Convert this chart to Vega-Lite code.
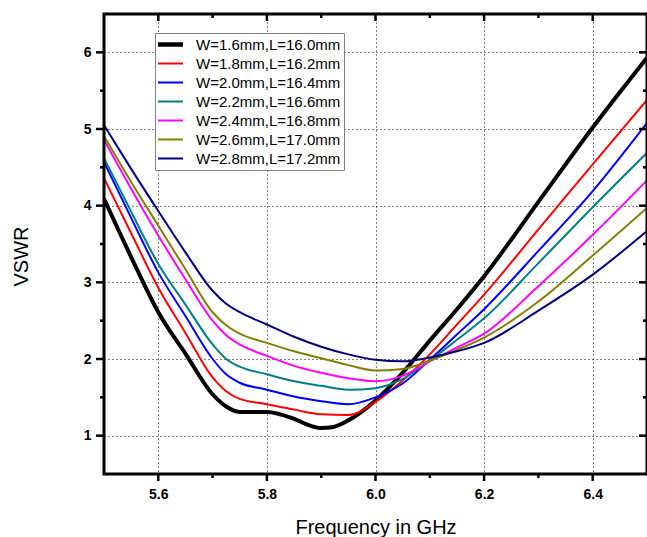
{
  "$schema": "https://vega.github.io/schema/vega-lite/v6.json",
  "width": 543,
  "height": 460,
  "autosize": "none",
  "padding": {"left": 104, "top": 14, "right": 0, "bottom": 63},
  "background": "white",
  "config": {
    "view": {"stroke": null},
    "font": "Liberation Sans",
    "axis": {
      "labelFont": "Liberation Sans",
      "labelFontWeight": "bold",
      "labelFontSize": 14,
      "labelColor": "black",
      "titleFont": "Liberation Sans",
      "titleFontSize": 20,
      "titleFontWeight": "normal",
      "titleColor": "black",
      "gridColor": "black",
      "gridDash": [1, 3],
      "gridWidth": 1,
      "labelOverlap": false,
      "labelFlush": false
    },
    "tick": {"color": "black", "opacity": 1, "thickness": 2.5}
  },
  "datasets": {
    "curves": [
      {"f": 5.5, "v": 4.09, "s": "W=1.6mm,L=16.0mm"},
      {"f": 5.55, "v": 3.33, "s": "W=1.6mm,L=16.0mm"},
      {"f": 5.6, "v": 2.61, "s": "W=1.6mm,L=16.0mm"},
      {"f": 5.65, "v": 2.07, "s": "W=1.6mm,L=16.0mm"},
      {"f": 5.7, "v": 1.54, "s": "W=1.6mm,L=16.0mm"},
      {"f": 5.725, "v": 1.38, "s": "W=1.6mm,L=16.0mm"},
      {"f": 5.75, "v": 1.31, "s": "W=1.6mm,L=16.0mm"},
      {"f": 5.8, "v": 1.31, "s": "W=1.6mm,L=16.0mm"},
      {"f": 5.85, "v": 1.22, "s": "W=1.6mm,L=16.0mm"},
      {"f": 5.88, "v": 1.13, "s": "W=1.6mm,L=16.0mm"},
      {"f": 5.9, "v": 1.1, "s": "W=1.6mm,L=16.0mm"},
      {"f": 5.92, "v": 1.11, "s": "W=1.6mm,L=16.0mm"},
      {"f": 5.95, "v": 1.2, "s": "W=1.6mm,L=16.0mm"},
      {"f": 6.0, "v": 1.46, "s": "W=1.6mm,L=16.0mm"},
      {"f": 6.05, "v": 1.82, "s": "W=1.6mm,L=16.0mm"},
      {"f": 6.1, "v": 2.24, "s": "W=1.6mm,L=16.0mm"},
      {"f": 6.15, "v": 2.65, "s": "W=1.6mm,L=16.0mm"},
      {"f": 6.2, "v": 3.08, "s": "W=1.6mm,L=16.0mm"},
      {"f": 6.3, "v": 4.05, "s": "W=1.6mm,L=16.0mm"},
      {"f": 6.4, "v": 5.02, "s": "W=1.6mm,L=16.0mm"},
      {"f": 6.5, "v": 5.93, "s": "W=1.6mm,L=16.0mm"},

      {"f": 5.5, "v": 4.36, "s": "W=1.8mm,L=16.2mm"},
      {"f": 5.55, "v": 3.64, "s": "W=1.8mm,L=16.2mm"},
      {"f": 5.6, "v": 2.93, "s": "W=1.8mm,L=16.2mm"},
      {"f": 5.65, "v": 2.34, "s": "W=1.8mm,L=16.2mm"},
      {"f": 5.7, "v": 1.76, "s": "W=1.8mm,L=16.2mm"},
      {"f": 5.725, "v": 1.58, "s": "W=1.8mm,L=16.2mm"},
      {"f": 5.75, "v": 1.48, "s": "W=1.8mm,L=16.2mm"},
      {"f": 5.8, "v": 1.41, "s": "W=1.8mm,L=16.2mm"},
      {"f": 5.85, "v": 1.34, "s": "W=1.8mm,L=16.2mm"},
      {"f": 5.9, "v": 1.28, "s": "W=1.8mm,L=16.2mm"},
      {"f": 5.95, "v": 1.27, "s": "W=1.8mm,L=16.2mm"},
      {"f": 6.0, "v": 1.44, "s": "W=1.8mm,L=16.2mm"},
      {"f": 6.05, "v": 1.72, "s": "W=1.8mm,L=16.2mm"},
      {"f": 6.1, "v": 2.06, "s": "W=1.8mm,L=16.2mm"},
      {"f": 6.15, "v": 2.45, "s": "W=1.8mm,L=16.2mm"},
      {"f": 6.2, "v": 2.84, "s": "W=1.8mm,L=16.2mm"},
      {"f": 6.3, "v": 3.69, "s": "W=1.8mm,L=16.2mm"},
      {"f": 6.4, "v": 4.54, "s": "W=1.8mm,L=16.2mm"},
      {"f": 6.5, "v": 5.38, "s": "W=1.8mm,L=16.2mm"},

      {"f": 5.5, "v": 4.57, "s": "W=2.0mm,L=16.4mm"},
      {"f": 5.55, "v": 3.84, "s": "W=2.0mm,L=16.4mm"},
      {"f": 5.6, "v": 3.13, "s": "W=2.0mm,L=16.4mm"},
      {"f": 5.65, "v": 2.56, "s": "W=2.0mm,L=16.4mm"},
      {"f": 5.7, "v": 2.0, "s": "W=2.0mm,L=16.4mm"},
      {"f": 5.725, "v": 1.8, "s": "W=2.0mm,L=16.4mm"},
      {"f": 5.75, "v": 1.69, "s": "W=2.0mm,L=16.4mm"},
      {"f": 5.8, "v": 1.6, "s": "W=2.0mm,L=16.4mm"},
      {"f": 5.85, "v": 1.51, "s": "W=2.0mm,L=16.4mm"},
      {"f": 5.9, "v": 1.45, "s": "W=2.0mm,L=16.4mm"},
      {"f": 5.95, "v": 1.41, "s": "W=2.0mm,L=16.4mm"},
      {"f": 6.0, "v": 1.5, "s": "W=2.0mm,L=16.4mm"},
      {"f": 6.05, "v": 1.68, "s": "W=2.0mm,L=16.4mm"},
      {"f": 6.1, "v": 1.99, "s": "W=2.0mm,L=16.4mm"},
      {"f": 6.15, "v": 2.32, "s": "W=2.0mm,L=16.4mm"},
      {"f": 6.2, "v": 2.65, "s": "W=2.0mm,L=16.4mm"},
      {"f": 6.3, "v": 3.41, "s": "W=2.0mm,L=16.4mm"},
      {"f": 6.4, "v": 4.19, "s": "W=2.0mm,L=16.4mm"},
      {"f": 6.5, "v": 5.08, "s": "W=2.0mm,L=16.4mm"},

      {"f": 5.5, "v": 4.62, "s": "W=2.2mm,L=16.6mm"},
      {"f": 5.55, "v": 3.92, "s": "W=2.2mm,L=16.6mm"},
      {"f": 5.6, "v": 3.24, "s": "W=2.2mm,L=16.6mm"},
      {"f": 5.65, "v": 2.71, "s": "W=2.2mm,L=16.6mm"},
      {"f": 5.7, "v": 2.19, "s": "W=2.2mm,L=16.6mm"},
      {"f": 5.725, "v": 2.0, "s": "W=2.2mm,L=16.6mm"},
      {"f": 5.75, "v": 1.9, "s": "W=2.2mm,L=16.6mm"},
      {"f": 5.8, "v": 1.8, "s": "W=2.2mm,L=16.6mm"},
      {"f": 5.85, "v": 1.71, "s": "W=2.2mm,L=16.6mm"},
      {"f": 5.9, "v": 1.65, "s": "W=2.2mm,L=16.6mm"},
      {"f": 5.95, "v": 1.6, "s": "W=2.2mm,L=16.6mm"},
      {"f": 6.0, "v": 1.62, "s": "W=2.2mm,L=16.6mm"},
      {"f": 6.05, "v": 1.74, "s": "W=2.2mm,L=16.6mm"},
      {"f": 6.1, "v": 1.98, "s": "W=2.2mm,L=16.6mm"},
      {"f": 6.15, "v": 2.25, "s": "W=2.2mm,L=16.6mm"},
      {"f": 6.2, "v": 2.53, "s": "W=2.2mm,L=16.6mm"},
      {"f": 6.3, "v": 3.25, "s": "W=2.2mm,L=16.6mm"},
      {"f": 6.4, "v": 3.98, "s": "W=2.2mm,L=16.6mm"},
      {"f": 6.5, "v": 4.69, "s": "W=2.2mm,L=16.6mm"},

      {"f": 5.5, "v": 4.86, "s": "W=2.4mm,L=16.8mm"},
      {"f": 5.55, "v": 4.22, "s": "W=2.4mm,L=16.8mm"},
      {"f": 5.6, "v": 3.61, "s": "W=2.4mm,L=16.8mm"},
      {"f": 5.65, "v": 3.04, "s": "W=2.4mm,L=16.8mm"},
      {"f": 5.7, "v": 2.5, "s": "W=2.4mm,L=16.8mm"},
      {"f": 5.725, "v": 2.31, "s": "W=2.4mm,L=16.8mm"},
      {"f": 5.75, "v": 2.19, "s": "W=2.4mm,L=16.8mm"},
      {"f": 5.8, "v": 2.04, "s": "W=2.4mm,L=16.8mm"},
      {"f": 5.85, "v": 1.91, "s": "W=2.4mm,L=16.8mm"},
      {"f": 5.9, "v": 1.82, "s": "W=2.4mm,L=16.8mm"},
      {"f": 5.95, "v": 1.75, "s": "W=2.4mm,L=16.8mm"},
      {"f": 6.0, "v": 1.71, "s": "W=2.4mm,L=16.8mm"},
      {"f": 6.05, "v": 1.78, "s": "W=2.4mm,L=16.8mm"},
      {"f": 6.1, "v": 1.97, "s": "W=2.4mm,L=16.8mm"},
      {"f": 6.15, "v": 2.15, "s": "W=2.4mm,L=16.8mm"},
      {"f": 6.2, "v": 2.33, "s": "W=2.4mm,L=16.8mm"},
      {"f": 6.3, "v": 2.95, "s": "W=2.4mm,L=16.8mm"},
      {"f": 6.4, "v": 3.62, "s": "W=2.4mm,L=16.8mm"},
      {"f": 6.5, "v": 4.33, "s": "W=2.4mm,L=16.8mm"},

      {"f": 5.5, "v": 4.91, "s": "W=2.6mm,L=17.0mm"},
      {"f": 5.55, "v": 4.31, "s": "W=2.6mm,L=17.0mm"},
      {"f": 5.6, "v": 3.74, "s": "W=2.6mm,L=17.0mm"},
      {"f": 5.65, "v": 3.17, "s": "W=2.6mm,L=17.0mm"},
      {"f": 5.7, "v": 2.61, "s": "W=2.6mm,L=17.0mm"},
      {"f": 5.725, "v": 2.44, "s": "W=2.6mm,L=17.0mm"},
      {"f": 5.75, "v": 2.33, "s": "W=2.6mm,L=17.0mm"},
      {"f": 5.8, "v": 2.21, "s": "W=2.6mm,L=17.0mm"},
      {"f": 5.85, "v": 2.1, "s": "W=2.6mm,L=17.0mm"},
      {"f": 5.9, "v": 2.01, "s": "W=2.6mm,L=17.0mm"},
      {"f": 5.95, "v": 1.92, "s": "W=2.6mm,L=17.0mm"},
      {"f": 6.0, "v": 1.85, "s": "W=2.6mm,L=17.0mm"},
      {"f": 6.05, "v": 1.87, "s": "W=2.6mm,L=17.0mm"},
      {"f": 6.1, "v": 1.98, "s": "W=2.6mm,L=17.0mm"},
      {"f": 6.15, "v": 2.12, "s": "W=2.6mm,L=17.0mm"},
      {"f": 6.2, "v": 2.28, "s": "W=2.6mm,L=17.0mm"},
      {"f": 6.3, "v": 2.75, "s": "W=2.6mm,L=17.0mm"},
      {"f": 6.4, "v": 3.35, "s": "W=2.6mm,L=17.0mm"},
      {"f": 6.5, "v": 3.97, "s": "W=2.6mm,L=17.0mm"},

      {"f": 5.5, "v": 5.05, "s": "W=2.8mm,L=17.2mm"},
      {"f": 5.55, "v": 4.48, "s": "W=2.8mm,L=17.2mm"},
      {"f": 5.6, "v": 3.93, "s": "W=2.8mm,L=17.2mm"},
      {"f": 5.65, "v": 3.39, "s": "W=2.8mm,L=17.2mm"},
      {"f": 5.7, "v": 2.89, "s": "W=2.8mm,L=17.2mm"},
      {"f": 5.725, "v": 2.72, "s": "W=2.8mm,L=17.2mm"},
      {"f": 5.75, "v": 2.61, "s": "W=2.8mm,L=17.2mm"},
      {"f": 5.8, "v": 2.45, "s": "W=2.8mm,L=17.2mm"},
      {"f": 5.85, "v": 2.29, "s": "W=2.8mm,L=17.2mm"},
      {"f": 5.9, "v": 2.16, "s": "W=2.8mm,L=17.2mm"},
      {"f": 5.95, "v": 2.06, "s": "W=2.8mm,L=17.2mm"},
      {"f": 6.0, "v": 1.99, "s": "W=2.8mm,L=17.2mm"},
      {"f": 6.05, "v": 1.97, "s": "W=2.8mm,L=17.2mm"},
      {"f": 6.1, "v": 2.02, "s": "W=2.8mm,L=17.2mm"},
      {"f": 6.15, "v": 2.1, "s": "W=2.8mm,L=17.2mm"},
      {"f": 6.2, "v": 2.21, "s": "W=2.8mm,L=17.2mm"},
      {"f": 6.3, "v": 2.63, "s": "W=2.8mm,L=17.2mm"},
      {"f": 6.4, "v": 3.1, "s": "W=2.8mm,L=17.2mm"},
      {"f": 6.5, "v": 3.67, "s": "W=2.8mm,L=17.2mm"}
    ],
    "xmajor": [{"t": 5.6}, {"t": 5.8}, {"t": 6.0}, {"t": 6.2}, {"t": 6.4}],
    "xminor": [{"t": 5.7}, {"t": 5.9}, {"t": 6.1}, {"t": 6.3}],
    "ymajor": [{"t": 1}, {"t": 2}, {"t": 3}, {"t": 4}, {"t": 5}, {"t": 6}],
    "yminor": [{"t": 1.5}, {"t": 2.5}, {"t": 3.5}, {"t": 4.5}, {"t": 5.5}],
    "one": [{"t": 0}]
  },
  "layer": [
    {
      "data": {"name": "curves"},
      "mark": {"type": "line", "interpolate": "monotone", "clip": true},
      "encoding": {
        "x": {
          "field": "f", "type": "quantitative",
          "scale": {"domain": [5.5, 6.5], "nice": false, "zero": false},
          "axis": {"orient": "bottom", "title": "Frequency in GHz", "values": [5.6, 5.8, 6.0, 6.2, 6.4], "format": ".1f", "domain": false, "ticks": false, "labelPadding": 13, "grid": true, "titleBaseline": "alphabetic", "titleY": 59}
        },
        "y": {
          "field": "v", "type": "quantitative",
          "scale": {"domain": [0.5, 6.5], "nice": false, "zero": false},
          "axis": {"orient": "left", "title": "VSWR", "values": [1, 2, 3, 4, 5, 6], "format": "d", "domain": false, "ticks": false, "labelPadding": 13, "grid": true, "titleBaseline": "alphabetic", "titleAlign": "center", "titleAngle": -90, "titleX": -77, "titleY": 242}
        },
        "color": {
          "field": "s", "type": "nominal",
          "scale": {
            "domain": ["W=1.6mm,L=16.0mm", "W=1.8mm,L=16.2mm", "W=2.0mm,L=16.4mm", "W=2.2mm,L=16.6mm", "W=2.4mm,L=16.8mm", "W=2.6mm,L=17.0mm", "W=2.8mm,L=17.2mm"],
            "range": ["#000000", "#FF0000", "#0000FF", "#008080", "#FF00FF", "#808000", "#000080"]
          },
          "legend": {
            "title": null,
            "orient": "none",
            "legendX": 51,
            "legendY": 19,
            "symbolType": "stroke",
            "symbolSize": 1225,
            "symbolStrokeWidth": 2,
            "clipHeight": 17,
            "rowPadding": 2,
            "labelFontSize": 15,
            "labelFont": "Liberation Sans",
            "labelColor": "black",
            "labelOffset": 23,
            "labelLimit": 300,
            "padding": 3,
            "strokeColor": "#808080",
            "fillColor": "white",
            "encode": {
              "legend": {"update": {"stroke": {"value": "#808080"}, "strokeWidth": {"value": 1}, "fill": {"value": "white"}}},
              "symbols": {"update": {"strokeWidth": {"signal": "datum.value === 'W=1.6mm,L=16.0mm' ? 4.5 : 2"}}}
            }
          }
        },
        "strokeWidth": {
          "condition": {"test": "datum.s === 'W=1.6mm,L=16.0mm'", "value": 4},
          "value": 2
        }
      }
    },
    {
      "data": {"name": "one"},
      "mark": {"type": "rect", "fill": null, "fillOpacity": 0, "stroke": "black", "strokeWidth": 3},
      "encoding": {
        "x": {"datum": 5.5, "type": "quantitative", "axis": {"orient": "bottom", "title": "Frequency in GHz", "values": [5.6, 5.8, 6.0, 6.2, 6.4], "format": ".1f", "domain": false, "ticks": false, "labelPadding": 13, "grid": true, "titleBaseline": "alphabetic", "titleY": 59}},
        "x2": {"datum": 6.5},
        "y": {"datum": 0.5, "type": "quantitative", "axis": {"orient": "left", "title": "VSWR", "values": [1, 2, 3, 4, 5, 6], "format": "d", "domain": false, "ticks": false, "labelPadding": 13, "grid": true, "titleBaseline": "alphabetic", "titleAlign": "center", "titleAngle": -90, "titleX": -77, "titleY": 242}},
        "y2": {"datum": 6.5}
      }
    },
    {
      "data": {"name": "xmajor"},
      "mark": {"type": "tick", "orient": "vertical", "size": 7, "yOffset": 3.5},
      "encoding": {
        "x": {"field": "t", "type": "quantitative", "axis": {"orient": "bottom", "title": "Frequency in GHz", "values": [5.6, 5.8, 6.0, 6.2, 6.4], "format": ".1f", "domain": false, "ticks": false, "labelPadding": 13, "grid": true, "titleBaseline": "alphabetic", "titleY": 59}},
        "y": {"datum": 0.5, "type": "quantitative", "axis": {"orient": "left", "title": "VSWR", "values": [1, 2, 3, 4, 5, 6], "format": "d", "domain": false, "ticks": false, "labelPadding": 13, "grid": true, "titleBaseline": "alphabetic", "titleAlign": "center", "titleAngle": -90, "titleX": -77, "titleY": 242}}
      }
    },
    {
      "data": {"name": "xminor"},
      "mark": {"type": "tick", "orient": "vertical", "size": 4, "yOffset": 2},
      "encoding": {
        "x": {"field": "t", "type": "quantitative", "axis": {"orient": "bottom", "title": "Frequency in GHz", "values": [5.6, 5.8, 6.0, 6.2, 6.4], "format": ".1f", "domain": false, "ticks": false, "labelPadding": 13, "grid": true, "titleBaseline": "alphabetic", "titleY": 59}},
        "y": {"datum": 0.5, "type": "quantitative", "axis": {"orient": "left", "title": "VSWR", "values": [1, 2, 3, 4, 5, 6], "format": "d", "domain": false, "ticks": false, "labelPadding": 13, "grid": true, "titleBaseline": "alphabetic", "titleAlign": "center", "titleAngle": -90, "titleX": -77, "titleY": 242}}
      }
    },
    {
      "data": {"name": "xmajor"},
      "mark": {"type": "tick", "orient": "vertical", "size": 7, "yOffset": 3.5},
      "encoding": {
        "x": {"field": "t", "type": "quantitative", "axis": {"orient": "bottom", "title": "Frequency in GHz", "values": [5.6, 5.8, 6.0, 6.2, 6.4], "format": ".1f", "domain": false, "ticks": false, "labelPadding": 13, "grid": true, "titleBaseline": "alphabetic", "titleY": 59}},
        "y": {"datum": 6.5, "type": "quantitative", "axis": {"orient": "left", "title": "VSWR", "values": [1, 2, 3, 4, 5, 6], "format": "d", "domain": false, "ticks": false, "labelPadding": 13, "grid": true, "titleBaseline": "alphabetic", "titleAlign": "center", "titleAngle": -90, "titleX": -77, "titleY": 242}}
      }
    },
    {
      "data": {"name": "xminor"},
      "mark": {"type": "tick", "orient": "vertical", "size": 4, "yOffset": 2},
      "encoding": {
        "x": {"field": "t", "type": "quantitative", "axis": {"orient": "bottom", "title": "Frequency in GHz", "values": [5.6, 5.8, 6.0, 6.2, 6.4], "format": ".1f", "domain": false, "ticks": false, "labelPadding": 13, "grid": true, "titleBaseline": "alphabetic", "titleY": 59}},
        "y": {"datum": 6.5, "type": "quantitative", "axis": {"orient": "left", "title": "VSWR", "values": [1, 2, 3, 4, 5, 6], "format": "d", "domain": false, "ticks": false, "labelPadding": 13, "grid": true, "titleBaseline": "alphabetic", "titleAlign": "center", "titleAngle": -90, "titleX": -77, "titleY": 242}}
      }
    },
    {
      "data": {"name": "ymajor"},
      "mark": {"type": "tick", "orient": "horizontal", "size": 8, "xOffset": -4},
      "encoding": {
        "y": {"field": "t", "type": "quantitative", "axis": {"orient": "left", "title": "VSWR", "values": [1, 2, 3, 4, 5, 6], "format": "d", "domain": false, "ticks": false, "labelPadding": 13, "grid": true, "titleBaseline": "alphabetic", "titleAlign": "center", "titleAngle": -90, "titleX": -77, "titleY": 242}},
        "x": {"datum": 5.5, "type": "quantitative", "axis": {"orient": "bottom", "title": "Frequency in GHz", "values": [5.6, 5.8, 6.0, 6.2, 6.4], "format": ".1f", "domain": false, "ticks": false, "labelPadding": 13, "grid": true, "titleBaseline": "alphabetic", "titleY": 59}}
      }
    },
    {
      "data": {"name": "yminor"},
      "mark": {"type": "tick", "orient": "horizontal", "size": 4, "xOffset": -2},
      "encoding": {
        "y": {"field": "t", "type": "quantitative", "axis": {"orient": "left", "title": "VSWR", "values": [1, 2, 3, 4, 5, 6], "format": "d", "domain": false, "ticks": false, "labelPadding": 13, "grid": true, "titleBaseline": "alphabetic", "titleAlign": "center", "titleAngle": -90, "titleX": -77, "titleY": 242}},
        "x": {"datum": 5.5, "type": "quantitative", "axis": {"orient": "bottom", "title": "Frequency in GHz", "values": [5.6, 5.8, 6.0, 6.2, 6.4], "format": ".1f", "domain": false, "ticks": false, "labelPadding": 13, "grid": true, "titleBaseline": "alphabetic", "titleY": 59}}
      }
    },
    {
      "data": {"name": "ymajor"},
      "mark": {"type": "tick", "orient": "horizontal", "size": 8, "xOffset": -4},
      "encoding": {
        "y": {"field": "t", "type": "quantitative", "axis": {"orient": "left", "title": "VSWR", "values": [1, 2, 3, 4, 5, 6], "format": "d", "domain": false, "ticks": false, "labelPadding": 13, "grid": true, "titleBaseline": "alphabetic", "titleAlign": "center", "titleAngle": -90, "titleX": -77, "titleY": 242}},
        "x": {"datum": 6.5, "type": "quantitative", "axis": {"orient": "bottom", "title": "Frequency in GHz", "values": [5.6, 5.8, 6.0, 6.2, 6.4], "format": ".1f", "domain": false, "ticks": false, "labelPadding": 13, "grid": true, "titleBaseline": "alphabetic", "titleY": 59}}
      }
    },
    {
      "data": {"name": "yminor"},
      "mark": {"type": "tick", "orient": "horizontal", "size": 4, "xOffset": -2},
      "encoding": {
        "y": {"field": "t", "type": "quantitative", "axis": {"orient": "left", "title": "VSWR", "values": [1, 2, 3, 4, 5, 6], "format": "d", "domain": false, "ticks": false, "labelPadding": 13, "grid": true, "titleBaseline": "alphabetic", "titleAlign": "center", "titleAngle": -90, "titleX": -77, "titleY": 242}},
        "x": {"datum": 6.5, "type": "quantitative", "axis": {"orient": "bottom", "title": "Frequency in GHz", "values": [5.6, 5.8, 6.0, 6.2, 6.4], "format": ".1f", "domain": false, "ticks": false, "labelPadding": 13, "grid": true, "titleBaseline": "alphabetic", "titleY": 59}}
      }
    }
  ]
}
